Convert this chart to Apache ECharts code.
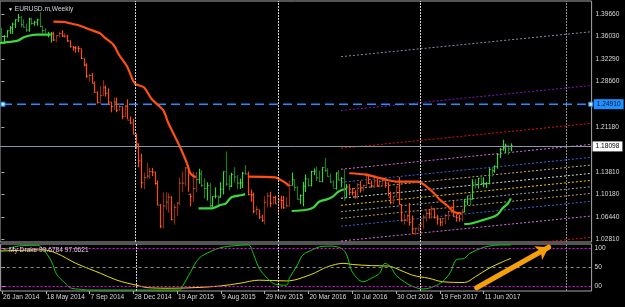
<!DOCTYPE html>
<html>
<head>
<meta charset="utf-8">
<script src="https://cdn.jsdelivr.net/npm/echarts@6/dist/echarts.min.js"></script>
<style>
html,body{margin:0;padding:0;background:#000;}
#chart{width:625px;height:307px;}
</style>
</head>
<body>
<div id="chart"></div>
<script>
// Weekly EURUSD bars [open, high, low, close], first bar = week of 26 Jan 2014
const bars = [
  [1.3685,1.3740,1.3478,1.3486],[1.3486,1.3620,1.3475,1.3600],[1.3600,1.3700,1.3580,1.3691],[1.3691,1.3770,1.3640,1.3740],
  [1.3740,1.3825,1.3642,1.3800],[1.3800,1.3880,1.3735,1.3870],[1.3870,1.3967,1.3835,1.3910],[1.3910,1.3935,1.3750,1.3790],
  [1.3790,1.3877,1.3750,1.3750],[1.3750,1.3810,1.3672,1.3705],[1.3705,1.3905,1.3675,1.3885],[1.3885,1.3905,1.3790,1.3812],
  [1.3812,1.3855,1.3775,1.3830],[1.3830,1.3890,1.3775,1.3870],[1.3870,1.3995,1.3750,1.3760],[1.3760,1.3775,1.3645,1.3695],
  [1.3695,1.3735,1.3645,1.3630],[1.3630,1.3675,1.3585,1.3635],[1.3635,1.3670,1.3500,1.3642],[1.3642,1.3677,1.3525,1.3540],
  [1.3540,1.3615,1.3503,1.3610],[1.3610,1.3677,1.3580,1.3645],[1.3645,1.3700,1.3590,1.3605],[1.3605,1.3650,1.3575,1.3605],
  [1.3605,1.3625,1.3510,1.3525],[1.3525,1.3535,1.3420,1.3430],[1.3430,1.3440,1.3365,1.3415],[1.3415,1.3440,1.3333,1.3410],
  [1.3410,1.3445,1.3340,1.3400],[1.3400,1.3400,1.3230,1.3240],[1.3240,1.3240,1.3110,1.3130],[1.3130,1.3160,1.2920,1.2950],
  [1.2950,1.2990,1.2860,1.2960],[1.2960,1.3000,1.2835,1.2830],[1.2830,1.2865,1.2680,1.2685],[1.2685,1.2700,1.2500,1.2520],
  [1.2520,1.2790,1.2500,1.2630],[1.2630,1.2885,1.2625,1.2760],[1.2760,1.2800,1.2615,1.2670],[1.2670,1.2750,1.2480,1.2525],
  [1.2525,1.2530,1.2358,1.2450],[1.2450,1.2600,1.2395,1.2525],[1.2525,1.2600,1.2358,1.2390],[1.2390,1.2500,1.2390,1.2450],
  [1.2450,1.2455,1.2245,1.2290],[1.2290,1.2475,1.2280,1.2460],[1.2460,1.2570,1.2245,1.2230],[1.2230,1.2290,1.2165,1.2185],
  [1.2185,1.2250,1.2000,1.2000],[1.2000,1.2010,1.1755,1.1840],[1.1840,1.1850,1.1460,1.1565],[1.1565,1.1680,1.1115,1.1205],
  [1.1205,1.1370,1.1100,1.1290],[1.1290,1.1535,1.1270,1.1315],[1.1315,1.1450,1.1270,1.1390],[1.1390,1.1450,1.1315,1.1380],
  [1.1380,1.1390,1.1175,1.1195],[1.1195,1.1245,1.0840,1.0840],[1.0840,1.0860,1.0462,1.0495],[1.0495,1.1045,1.0460,1.0825],
  [1.0825,1.1050,1.0765,1.0890],[1.0890,1.1035,1.0715,1.0970],[1.0970,1.0985,1.0595,1.0600],[1.0600,1.0850,1.0520,1.0805],
  [1.0805,1.0890,1.0660,1.0875],[1.0875,1.1290,1.0840,1.1200],[1.1200,1.1390,1.1050,1.1200],[1.1200,1.1465,1.1150,1.1450],
  [1.1450,1.1465,1.1060,1.1015],[1.1015,1.1030,1.0820,1.0985],[1.0985,1.1380,1.0890,1.1110],[1.1110,1.1385,1.1050,1.1260],
  [1.1260,1.1435,1.1190,1.1350],[1.1350,1.1410,1.1135,1.1165],[1.1165,1.1280,1.0950,1.1110],[1.1110,1.1215,1.0915,1.1160],
  [1.1160,1.1200,1.0810,1.0830],[1.0830,1.0985,1.0810,1.0980],[1.0980,1.1130,1.0950,1.0985],[1.0985,1.1000,1.0845,1.0970],
  [1.0970,1.1215,1.0960,1.1100],[1.1100,1.1390,1.1015,1.1385],[1.1385,1.1715,1.1150,1.1185],[1.1185,1.1330,1.1085,1.1150],
  [1.1150,1.1370,1.1135,1.1340],[1.1340,1.1460,1.1210,1.1300],[1.1300,1.1330,1.1105,1.1200],[1.1200,1.1275,1.1105,1.1205],
  [1.1205,1.1385,1.1120,1.1360],[1.1360,1.1495,1.1340,1.1350],[1.1350,1.1390,1.1000,1.1015],[1.1015,1.1095,1.0895,1.1005],
  [1.1005,1.1045,1.0705,1.0740],[1.0740,1.0830,1.0675,1.0770],[1.0770,1.0760,1.0615,1.0645],[1.0645,1.0680,1.0565,1.0590],
  [1.0590,1.0985,1.0525,1.0885],[1.0885,1.1045,1.0800,1.0990],[1.0990,1.1060,1.0805,1.0870],[1.0870,1.0990,1.0850,1.0965],
  [1.0965,1.0995,1.0860,1.0860],[1.0860,1.0970,1.0710,1.0925],[1.0925,1.0995,1.0780,1.0915],[1.0915,1.0990,1.0780,1.0795],
  [1.0795,1.0970,1.0805,1.0830],[1.0830,1.1240,1.0810,1.1160],[1.1160,1.1375,1.1160,1.1255],[1.1255,1.1260,1.1070,1.1130],
  [1.1130,1.1150,1.0935,1.0935],[1.0935,1.1015,1.0860,1.0995],[1.0995,1.1220,1.0820,1.1150],[1.1150,1.1340,1.1055,1.1270],
  [1.1270,1.1275,1.1145,1.1165],[1.1165,1.1400,1.1145,1.1390],[1.1390,1.1440,1.1330,1.1395],[1.1395,1.1465,1.1235,1.1285],
  [1.1285,1.1400,1.1215,1.1225],[1.1225,1.1460,1.1215,1.1455],[1.1455,1.1615,1.1385,1.1405],[1.1405,1.1445,1.1310,1.1310],
  [1.1310,1.1355,1.1200,1.1220],[1.1220,1.1250,1.1130,1.1115],[1.1115,1.1375,1.1095,1.1365],[1.1365,1.1415,1.1245,1.1250],
  [1.1250,1.1300,1.1130,1.1275],[1.1275,1.1425,1.0910,1.1115],[1.1115,1.1185,1.0960,1.1135],[1.1135,1.1185,1.1000,1.1050],
  [1.1050,1.1120,1.1000,1.1045],[1.1045,1.1085,1.0950,1.0975],[1.0975,1.1200,1.0950,1.1175],[1.1175,1.1235,1.1045,1.1085],
  [1.1085,1.1175,1.1065,1.1160],[1.1160,1.1365,1.1145,1.1325],[1.1325,1.1350,1.1185,1.1195],[1.1195,1.1245,1.1125,1.1155],
  [1.1155,1.1330,1.1120,1.1235],[1.1235,1.1275,1.1135,1.1155],[1.1155,1.1255,1.1125,1.1225],[1.1225,1.1280,1.1150,1.1240],
  [1.1240,1.1260,1.1125,1.1200],[1.1200,1.1215,1.0990,1.0970],[1.0970,1.1060,1.0855,1.0885],[1.0885,1.0990,1.0860,1.0985],
  [1.0985,1.1145,1.0960,1.1140],[1.1140,1.1300,1.0850,1.0850],[1.0850,1.0860,1.0570,1.0585],[1.0585,1.0690,1.0520,1.0590],
  [1.0590,1.0690,1.0570,1.0665],[1.0665,1.0875,1.0505,1.0560],[1.0560,1.0670,1.0365,1.0450],[1.0450,1.0470,1.0352,1.0455],
  [1.0455,1.0490,1.0410,1.0520],[1.0520,1.0615,1.0340,1.0530],[1.0530,1.0685,1.0455,1.0645],[1.0645,1.0775,1.0570,1.0705],
  [1.0705,1.0775,1.0620,1.0700],[1.0700,1.0830,1.0620,1.0780],[1.0780,1.0790,1.0620,1.0640],[1.0640,1.0680,1.0520,1.0615],
  [1.0615,1.0630,1.0495,1.0560],[1.0560,1.0630,1.0495,1.0620],[1.0620,1.0700,1.0525,1.0670],[1.0670,1.0745,1.0595,1.0735],
  [1.0735,1.0825,1.0705,1.0800],[1.0800,1.0905,1.0650,1.0650],[1.0650,1.0690,1.0570,1.0640],[1.0640,1.0680,1.0570,1.0615],
  [1.0615,1.0780,1.0570,1.0725],[1.0725,1.0940,1.0725,1.0895],[1.0895,1.0990,1.0840,1.0995],[1.0995,1.1025,1.0840,1.0935],
  [1.0935,1.1265,1.0930,1.1205],[1.1205,1.1268,1.1110,1.1180],[1.1180,1.1285,1.1110,1.1280],[1.1280,1.1295,1.1190,1.1195],
  [1.1195,1.1295,1.1130,1.1195],[1.1195,1.1220,1.1120,1.1195],[1.1195,1.1445,1.1180,1.1425],[1.1425,1.1445,1.1310,1.1400],
  [1.1400,1.1490,1.1370,1.1470],[1.1470,1.1680,1.1435,1.1665],[1.1665,1.1775,1.1610,1.1750],[1.1750,1.1910,1.1730,1.1775],
  [1.1775,1.1845,1.1690,1.1820],[1.1820,1.1825,1.1660,1.1760],[1.1760,1.1850,1.1720,1.1810]
];
// bar ranges (inclusive) painted as uptrend
const upTrendRanges = [[0, 18], [72, 89], [106, 126], [169, 186]];

// trailing stop lines [barIndex, price]
const greenStops = [
  [[-0.5, 1.349], [3, 1.351], [6, 1.353], [8, 1.358], [10, 1.361], [13, 1.363], [18, 1.363]],
  [[72, 1.0788], [77, 1.0788], [80, 1.0842], [82, 1.087], [84, 1.0968], [88, 1.1006], [89, 1.102]],
  [[106, 1.0744], [111, 1.076], [114, 1.0804], [116, 1.0896], [119, 1.0935], [121, 1.0978], [123, 1.1059], [125, 1.1099]],
  [[169, 1.0531], [171, 1.0535], [175, 1.0585], [178, 1.0624], [181, 1.0679], [183, 1.0788], [185, 1.087], [186, 1.0951]]
];
const orangeStops = [
  [[19, 1.384], [23, 1.3835], [25, 1.3814], [29, 1.377], [32, 1.3716], [36, 1.365], [38, 1.357], [41, 1.346], [43, 1.3295],
   [46, 1.310], [48, 1.2886], [49, 1.282], [52, 1.2767], [55, 1.2568], [59, 1.2396], [61, 1.2178], [64, 1.1905],
   [66, 1.1714], [68, 1.1496], [69, 1.136], [71, 1.1295]],
  [[90, 1.1305], [100, 1.1295], [102, 1.1251], [104, 1.1197], [105, 1.1153]],
  [[127, 1.1361], [133, 1.1339], [137, 1.1295], [141, 1.1251], [144, 1.1224], [152, 1.1224], [155, 1.1153], [158, 1.1033],
   [160, 1.0935], [163, 1.0826], [165, 1.0732], [168, 1.0706]]
];

// fibonacci channel: start/end bar and price at each end, top to bottom
const channelStart = 124, channelEnd = 215.5;
const channelLeft  = [1.3268, 1.2388, 1.1769, 1.1426, 1.1213, 1.1087, 1.0952, 1.0837, 1.0732, 1.0624, 1.0494, 1.0253, 0.9905];
const channelRight = [1.3676, 1.2797, 1.2178, 1.1835, 1.1622, 1.1496, 1.1360, 1.1246, 1.1141, 1.1033, 1.0903, 1.0662, 1.0314];
const channelColors = ['#8090a8', '#8a10c8', '#e01010', '#d070d8', '#3a62d8', '#c8a882', '#d8d8d8', '#f0c800',
                       '#a0a0a0', '#b89870', '#3a62d8', '#d070d8', '#e01010'];

const levelLine = 1.2491;
const bidPrice = 1.18098;
const yearSeparators = [49, 101, 153];
const greySeparator = 206.4;

const priceTicks = [1.3966, 1.3603, 1.3229, 1.2866, 1.2118, 1.1381, 1.1018, 1.0644, 1.0281];
const timeLabels = ['26 Jan 2014', '18 May 2014', '7 Sep 2014', '28 Dec 2014', '19 Apr 2015', '9 Aug 2015',
                    '29 Nov 2015', '20 Mar 2016', '10 Jul 2016', '30 Oct 2016', '19 Feb 2017', '11 Jun 2017'];
const labelEvery = 16;
const barSlots = 216;

// oscillator sub window
const drakeFast = [[-0.5, 92], [7, 106], [13, 107], [15, 97], [18, 66], [20, 31], [23, 9], [25, -4], [29, -8], [32, -9.7],
  [65, -9.7], [66, 0], [69, 38], [72, 73], [76, 90], [80, 101], [85, 106], [90, 108], [92, 82], [94, 47], [97, 21],
  [100, 5], [104, 3], [105, 21], [108, 56], [110, 82], [114, 97], [116, 103], [120, 105], [124, 99], [126, 82], [128, 38],
  [132, 12], [135, 21], [138, 34], [140, 60], [142, 51], [144, 29], [147, 12], [150, 0], [154, -7], [158, 0], [161, 12],
  [164, 38], [166, 69], [169, 73], [171, 86], [175, 99], [178, 105], [182, 108], [186, 108]];
const drakeSlow = [[-0.5, 92], [15, 95], [20, 86], [27, 60], [36, 34], [42, 16], [49, 3], [54, -4], [62, -5], [72, -3],
  [80, 1], [87, 8], [94, 16], [104, 14], [113, 31], [119, 51], [125, 60], [128, 57], [135, 54], [141, 53], [144, 47],
  [150, 29], [156, 21], [161, 12], [169, 10], [173, 25], [178, 47], [183, 64], [186, 73]];
const subLevels = [0, 50, 100];
const subLevelLabels = ['00', '50', '100'];
const arrowFrom = [173.5, -3.7], arrowTo = [199.8, 102];

const FONT = 'Liberation Sans, Arial, sans-serif';
const TXT = '#d8d8d8';

const isUp = i => upTrendRanges.some(r => i >= r[0] && i <= r[1]);
const barData = bars.map((b, i) => [i, b[0], b[1], b[2], b[3], isUp(i) ? 1 : 0]);

const chart = echarts.init(document.getElementById('chart'));

const series = [];

// fibonacci channel
channelLeft.forEach((v, k) => {
  series.push({
    type: 'line', xAxisIndex: 0, yAxisIndex: 0, z: 1, silent: true, symbol: 'none',
    data: [[channelStart, v], [channelEnd, channelRight[k]]],
    lineStyle: { color: channelColors[k], width: 1, type: [2, 2] }
  });
});

// bars
series.push({
  type: 'custom', xAxisIndex: 0, yAxisIndex: 0, z: 3, silent: true,
  data: barData,
  encode: { x: 0, y: [1, 2, 3, 4] },
  renderItem: (params, api) => {
    const i = api.value(0);
    const o = api.value(1), h = api.value(2), l = api.value(3), c = api.value(4);
    const up = api.value(5) === 1;
    const bull = c >= o;
    const bright = up ? '#3ad23a' : '#ff4a0a';
    const dark = up ? '#1d7a1d' : '#8a2e08';
    const pH = api.coord([i, h]), pL = api.coord([i, l]);
    const pO = api.coord([i, o]), pC = api.coord([i, c]);
    const x = Math.round(pH[0]) + 0.5;
    const col = bull ? (up ? bright : dark) : (up ? dark : bright);
    return {
      type: 'group',
      children: [
        { type: 'line', shape: { x1: x, y1: pH[1], x2: x, y2: pL[1] }, style: { stroke: col, lineWidth: 1.2 } },
        { type: 'line', shape: { x1: x - 1, y1: pO[1], x2: x, y2: pO[1] }, style: { stroke: col, lineWidth: 1 } },
        { type: 'line', shape: { x1: x, y1: pC[1], x2: x + 1.3, y2: pC[1] }, style: { stroke: '#e8e8e8', lineWidth: 1, opacity: 0.55 } }
      ]
    };
  },
  markLine: {
    silent: true, symbol: 'none', animation: false,
    data: [
      ...yearSeparators.map(s => ({ xAxis: s, lineStyle: { color: '#d0d0d0', type: [2, 1], width: 1 }, label: { show: false } })),
      { xAxis: greySeparator, lineStyle: { color: '#8a8a8a', type: [2, 1], width: 1 }, label: { show: false } },
      { yAxis: bidPrice, lineStyle: { color: '#8a96a6', type: 'solid', width: 1 },
        label: { show: true, position: 'end', distance: 1, formatter: bidPrice.toFixed(5), backgroundColor: '#ffffff',
                 color: '#000', fontSize: 6.6, fontFamily: FONT, padding: [2, 3, 1, 3] } }
    ]
  }
});

// blue horizontal level
series.push({
  type: 'line', xAxisIndex: 0, yAxisIndex: 0, z: 2, silent: true,
  data: [[0.6, levelLine], [215.2, levelLine]],
  symbol: 'rect', symbolSize: 4, showSymbol: true,
  itemStyle: { color: '#cfe6ff', borderColor: '#1e90ff', borderWidth: 1 },
  lineStyle: { color: '#1e90ff', width: 1.4, type: [9, 5] },
  endLabel: { show: true, formatter: levelLine.toFixed(5), distance: 3, backgroundColor: '#1e90ff',
              color: '#08183a', fontSize: 6.6, fontFamily: FONT, padding: [2, 3, 1, 3] }
});

// trailing stops
greenStops.forEach(seg => series.push({
  type: 'line', xAxisIndex: 0, yAxisIndex: 0, z: 4, silent: true, symbol: 'none', smooth: 0.3,
  data: seg, lineStyle: { color: '#3cd83c', width: 2.2 }
}));
orangeStops.forEach(seg => series.push({
  type: 'line', xAxisIndex: 0, yAxisIndex: 0, z: 4, silent: true, symbol: 'none', smooth: 0.3,
  data: seg, lineStyle: { color: '#ff5010', width: 2.2 }
}));

// sub window
series.push({
  type: 'line', xAxisIndex: 1, yAxisIndex: 1, z: 3, silent: true, symbol: 'none', smooth: 0.35,
  data: drakeSlow, lineStyle: { color: '#e8e000', width: 1 },
  markLine: {
    silent: true, symbol: 'none', animation: false, label: { show: false },
    data: [
      { yAxis: 100, lineStyle: { color: '#ff00ff', type: [2, 2], width: 1 } },
      { yAxis: 0, lineStyle: { color: '#ff00ff', type: [2, 2], width: 1 } },
      { yAxis: 50, lineStyle: { color: '#8a8a8a', type: [3, 3], width: 1 } },
      ...yearSeparators.map(s => ({ xAxis: s, lineStyle: { color: '#d0d0d0', type: [2, 1], width: 1 } })),
      { xAxis: greySeparator, lineStyle: { color: '#8a8a8a', type: [2, 1], width: 1 } }
    ]
  }
});
series.push({
  type: 'line', xAxisIndex: 1, yAxisIndex: 1, z: 4, silent: true, symbol: 'none', smooth: 0.35,
  data: drakeFast, lineStyle: { color: '#10c810', width: 1 }
});
series.push({
  type: 'lines', coordinateSystem: 'cartesian2d', xAxisIndex: 1, yAxisIndex: 1, z: 6, silent: true,
  symbol: ['none', 'arrow'], symbolSize: 12,
  data: [{ coords: [arrowFrom, arrowTo] }],
  lineStyle: { color: '#f5a00a', width: 5, opacity: 1, cap: 'round' }
});

chart.setOption({
  backgroundColor: '#000',
  animation: false,
  textStyle: { fontFamily: FONT },
  title: [
    { left: 3, top: 1, text: '{t|▼} EURUSD.m,Weekly',
      textStyle: { color: '#d0d4dc', fontSize: 6.6, fontWeight: 'normal', fontFamily: FONT,
                   rich: { t: { fontSize: 5, color: '#e0e0e0' } } } },
    { left: 4, top: 242, text: 'My Drake 99.6784 97.6621',
      textStyle: { color: '#d8d8d8', fontSize: 6.6, fontWeight: 'normal', fontFamily: FONT } }
  ],
  grid: [
    { left: 0, top: 1, width: 591.6, height: 241, show: true, borderColor: '#a8a8a8', borderWidth: 1, backgroundColor: 'transparent' },
    { left: 0, top: 244, width: 591.6, height: 47, show: true, borderColor: '#a8a8a8', borderWidth: 1, backgroundColor: 'transparent' }
  ],
  xAxis: [
    { type: 'value', gridIndex: 0, min: -0.5, max: barSlots - 0.5, show: false },
    { type: 'value', gridIndex: 1, min: -0.5, max: barSlots - 0.5, show: false },
    { type: 'category', gridIndex: 1, position: 'bottom', boundaryGap: true,
      data: Array.from({ length: barSlots }, (_, i) => i),
      axisLine: { show: false },
      axisTick: { show: true, alignWithLabel: true, length: 3, lineStyle: { color: '#b0b0b0' },
                  interval: i => i % labelEvery === 0 && i / labelEvery < timeLabels.length },
      axisLabel: { show: true, interval: i => i % labelEvery === 0 && i / labelEvery < timeLabels.length,
                   formatter: (v, i) => timeLabels[i / labelEvery] || '', align: 'left', margin: 3,
                   color: TXT, fontSize: 6.6, fontFamily: FONT, padding: [0, 0, 0, 1] },
      splitLine: { show: false } }
  ],
  yAxis: [
    { type: 'value', gridIndex: 0, position: 'right', min: 1.02369, max: 1.41786, scale: true,
      axisLine: { show: false }, splitLine: { show: false },
      axisTick: { show: true, length: 3, customValues: priceTicks, lineStyle: { color: '#b0b0b0' } },
      axisLabel: { show: true, customValues: priceTicks, formatter: v => v.toFixed(5), margin: 4,
                   color: TXT, fontSize: 6.6, fontFamily: FONT } },
    { type: 'value', gridIndex: 1, position: 'right', min: -12.27, max: 110.44,
      axisLine: { show: false }, splitLine: { show: false },
      axisTick: { show: true, length: 3, customValues: subLevels, lineStyle: { color: '#b0b0b0' } },
      axisLabel: { show: true, customValues: subLevels, formatter: v => subLevelLabels[subLevels.indexOf(v)] || '',
                   margin: 3, color: TXT, fontSize: 6.6, fontFamily: FONT } }
  ],
  series: series
});
</script>
</body>
</html>
